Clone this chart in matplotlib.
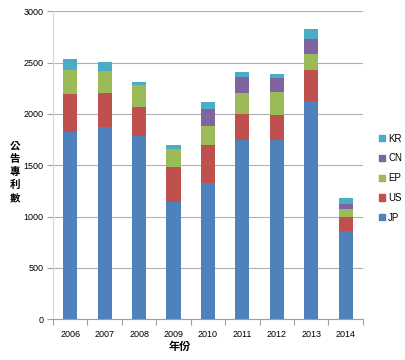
import numpy as np
import matplotlib.pyplot as plt
from matplotlib.patches import Patch

plt.rcParams['font.family'] = ['Liberation Sans', 'Noto Sans CJK TC', 'DejaVu Sans']

years = ['2006', '2007', '2008', '2009', '2010', '2011', '2012', '2013', '2014']
jp = [1823, 1872, 1782, 1140, 1328, 1750, 1743, 2125, 861]
us = [367, 331, 285, 347, 373, 246, 243, 305, 136]
ep = [240, 214, 213, 171, 181, 207, 230, 156, 78]
cn = [0, 0, 0, 0, 169, 155, 129, 142, 46]
kr = [103, 84, 33, 43, 68, 49, 39, 94, 58]

series = [('JP', jp, '#4F81BD'), ('US', us, '#C0504D'), ('EP', ep, '#9BBB59'),
          ('CN', cn, '#8064A2'), ('KR', kr, '#4BACC6')]

fig = plt.figure(figsize=(4.05, 3.6), dpi=100)
ax = fig.add_axes([0.131, 0.113, 0.765, 0.856])

x = np.arange(len(years))
bottom = np.zeros(len(years))
for name, vals, col in series:
    ax.bar(x, vals, 0.41, bottom=bottom, color=col, zorder=3)
    bottom += np.array(vals)

ax.set_xlim(-0.5, len(years) - 0.5)
ax.set_ylim(0, 3000)
ax.set_yticks(range(0, 3001, 500))
ax.yaxis.grid(True, color='#b0b0b0', lw=0.8, zorder=0)

# category ticks between bars, excel style
ax.set_xticks(x)
ax.set_xticklabels(years, fontsize=6.5)
ax.set_xticks(np.arange(-0.5, len(years)), minor=True)
ax.tick_params(axis='x', which='major', length=0, pad=8)
ax.tick_params(axis='x', which='minor', length=4, color='#a0a0a0', width=0.8)
ax.tick_params(axis='y', labelsize=6.5, length=4, color='#a0a0a0', width=0.8, pad=3)

for s in ['top', 'right']:
    ax.spines[s].set_visible(False)
ax.spines['left'].set_color('#d8d8d8')
ax.spines['bottom'].set_color('#a0a0a0')

fig.text(0.444, 0.028, '年份', fontsize=8, fontweight='bold', ha='center',
         family=['Noto Sans CJK TC'])
fig.text(0.037, 0.522, '公\n告\n專\n利\n數', fontsize=7.5, fontweight='bold',
         ha='center', va='center', linespacing=1.4, family=['Noto Sans CJK TC'])

handles = [Patch(color=col, label=name) for name, vals, col in series[::-1]]
fig.legend(handles=handles, loc='center left', bbox_to_anchor=(0.925, 0.505),
           frameon=False, fontsize=7, handlelength=0.6, handleheight=0.6,
           handletextpad=0.3, labelspacing=1.0, borderpad=0)

fig.savefig('out.png', dpi=100)
